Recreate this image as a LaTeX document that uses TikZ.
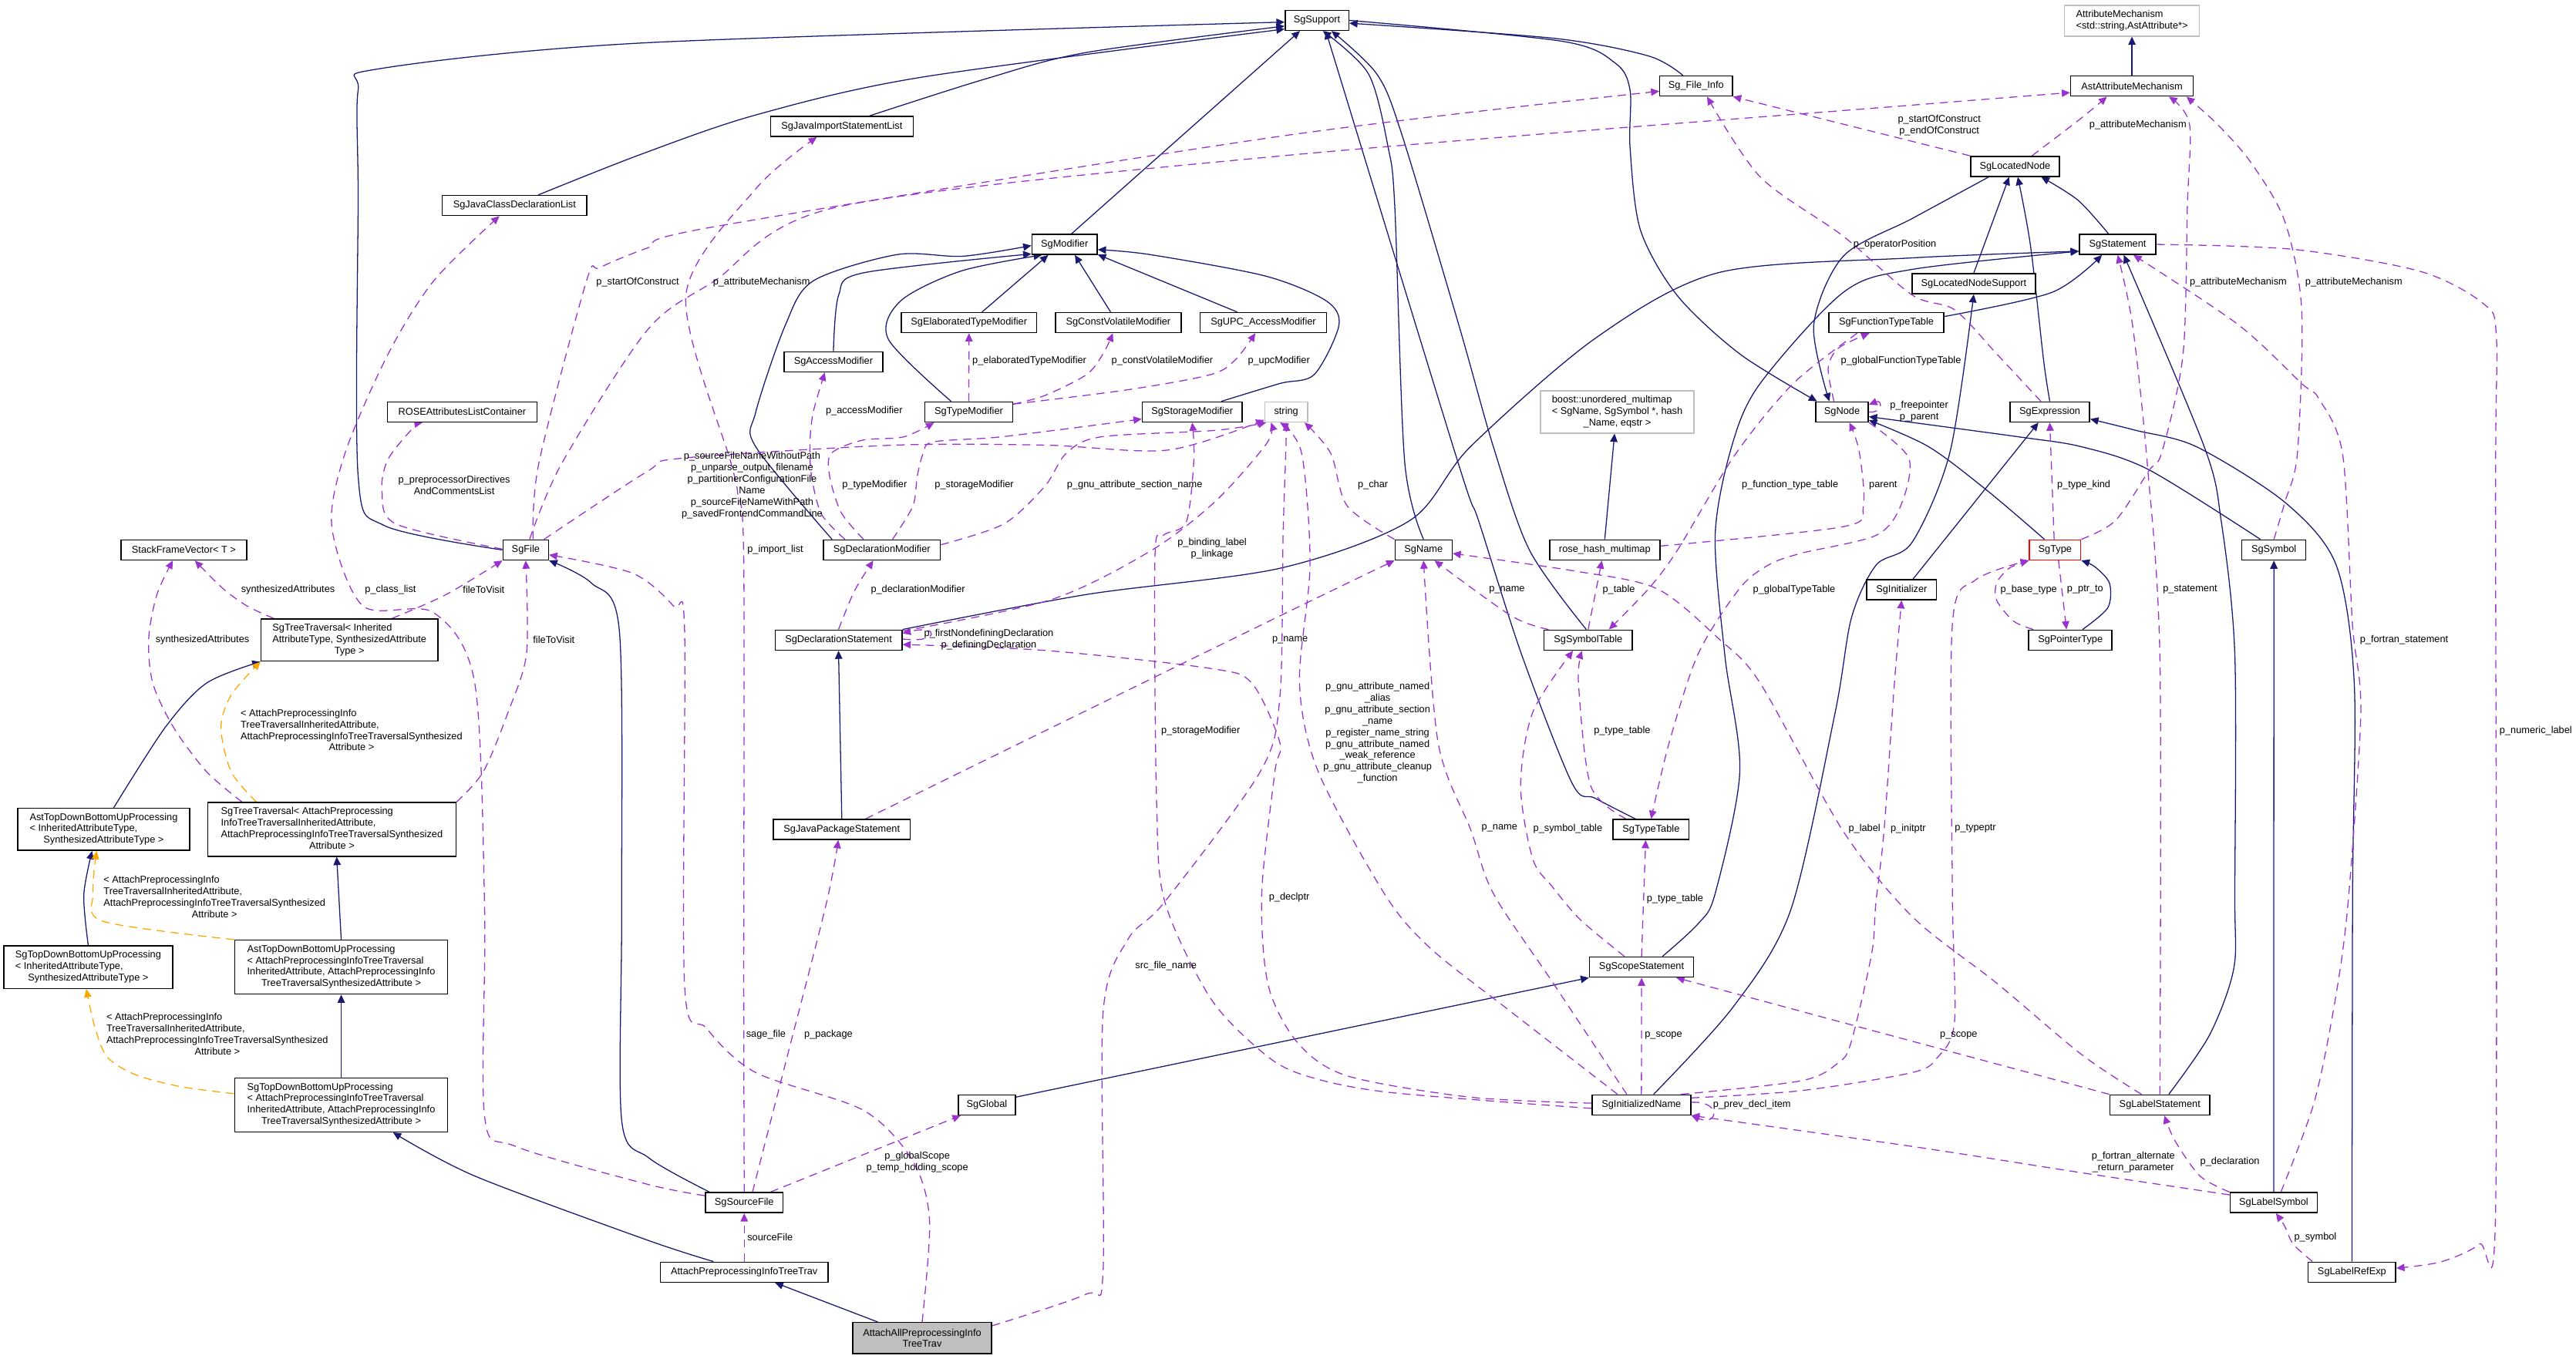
\documentclass[tikz,border=0pt]{standalone}
\usepackage{fontspec}
\setmainfont{Liberation Sans}
\usetikzlibrary{arrows.meta,backgrounds}
\definecolor{inhblue}{HTML}{191970}
\definecolor{usepurple}{HTML}{9A32CD}
\definecolor{tplorange}{HTML}{FFA500}
\definecolor{extgray}{HTML}{BFBFBF}
\newcommand{\boxlines}[2]{\begin{tabular}{@{}l@{}}#1\multicolumn{1}{@{}c@{}}{#2}\end{tabular}}
\tikzset{
  cls/.style={draw=black,line width=0.7pt,fill=white,rectangle,minimum height=12.2pt,
              inner sep=2pt,font=\fontsize{6}{6.9}\selectfont},
  extcls/.style={cls,draw=extgray},
  curcls/.style={cls,fill=extgray},
  redcls/.style={cls,draw=red},
  inh/.style={draw=inhblue,line width=0.6pt,-{Triangle[length=5pt,width=4.5pt]}},
  usg/.style={draw=usepurple,line width=0.6pt,dash pattern=on 5pt off 3.5pt,
              -{Triangle[length=5pt,width=4.5pt]}},
  tpl/.style={usg,draw=tplorange},
  lbl/.style={inner sep=0pt,font=\fontsize{6}{7}\selectfont,align=center}
}

\begin{document}
\begin{tikzpicture}[x=1pt,y=-1pt]
\useasboundingbox (0,0) rectangle (1568,827);

% classes, top to bottom
\node[cls,minimum width=38.7pt] (sup) at (801.6,12.4) {SgSupport};
\node[extcls,minimum width=82pt,minimum height=18.7pt] (attmech) at (1297.7,12.6) {\boxlines{AttributeMechanism\\}{<std::string,AstAttribute*>}};
\node[cls,minimum width=74.7pt] (astmech) at (1297.7,52.4) {AstAttributeMechanism};
\node[cls,minimum width=44.2pt] (finfo) at (1032.4,52.4) {Sg\_File\_Info};
\node[cls,minimum width=86.8pt] (jimport) at (512.4,77) {SgJavaImportStatementList};
\node[cls,minimum width=54pt] (locnode) at (1226.5,101.3) {SgLocatedNode};
\node[cls,minimum width=88pt] (jclass) at (313.2,125.1) {SgJavaClassDeclarationList};
\node[cls,minimum width=39.7pt] (modif) at (648,148.8) {SgModifier};
\node[cls,minimum width=46.6pt] (stmt) at (1289,148.8) {SgStatement};
\node[cls,minimum width=75pt] (locsup) at (1201.4,172.7) {SgLocatedNodeSupport};
\node[cls,minimum width=82.2pt] (elab) at (589.8,196.4) {SgElaboratedTypeModifier};
\node[cls,minimum width=76.4pt] (cvmod) at (680.7,196.4) {SgConstVolatileModifier};
\node[cls,minimum width=77pt] (upcmod) at (769,196.4) {SgUPC\_AccessModifier};
\node[cls,minimum width=70pt] (ftt) at (1148.2,196.4) {SgFunctionTypeTable};
\node[cls,minimum width=60pt] (accmod) at (507.3,220.3) {SgAccessModifier};
\node[cls,minimum width=91pt] (rosecont) at (281.3,250.8) {ROSEAttributesListContainer};
\node[cls,minimum width=53.3pt] (typemod) at (589.7,250.8) {SgTypeModifier};
\node[cls,minimum width=60.8pt] (stormod) at (725.7,250.8) {SgStorageModifier};
\node[extcls,minimum width=26pt] (string) at (782.9,250.8) {string};
\node[extcls,minimum width=93.5pt,minimum height=25.7pt] (boostmm) at (984.4,250.8) {\boxlines{boost::unordered\_multimap\\< SgName, SgSymbol *, hash\\}{\_Name, eqstr >}};
\node[cls,minimum width=32pt] (sgnode) at (1121.2,250.8) {SgNode};
\node[cls,minimum width=48.5pt] (sgexpr) at (1247.7,250.8) {SgExpression};
\node[cls,minimum width=76.4pt] (sframe) at (111.9,334.8) {StackFrameVector< T >};
\node[cls,minimum width=27.7pt] (sgfile) at (320,334.8) {SgFile};
\node[cls,minimum width=71.1pt] (declmod) at (536.8,334.8) {SgDeclarationModifier};
\node[cls,minimum width=34.7pt] (sgname) at (866.5,334.8) {SgName};
\node[cls,minimum width=67.1pt] (rosehash) at (976.8,334.8) {rose\_hash\_multimap};
\node[redcls,minimum width=31.2pt] (sgtype) at (1250.9,334.8) {SgType};
\node[cls,minimum width=39pt] (sgsym) at (1384.1,334.8) {SgSymbol};
\node[cls,minimum width=42.6pt] (sginit) at (1157.5,359) {SgInitializer};
\node[cls,minimum width=107.6pt,minimum height=25.7pt] (ttinh) at (212.7,389.7) {\boxlines{SgTreeTraversal< Inherited\\AttributeType, SynthesizedAttribute\\}{Type >}};
\node[cls,minimum width=77.2pt] (declst) at (510.4,389.7) {SgDeclarationStatement};
\node[cls,minimum width=53.6pt] (symtab) at (966.7,389.7) {SgSymbolTable};
\node[cls,minimum width=50.7pt] (ptrtype) at (1260.2,389.7) {SgPointerType};
\node[cls,minimum width=104.6pt,minimum height=25.7pt] (asttdinh) at (63.1,504.9) {\boxlines{AstTopDownBottomUpProcessing\\< InheritedAttributeType,\\}{SynthesizedAttributeType >}};
\node[cls,minimum width=151pt,minimum height=32.7pt] (ttatt) at (202,505) {\boxlines{SgTreeTraversal< AttachPreprocessing\\InfoTreeTraversalInheritedAttribute,\\AttachPreprocessingInfoTreeTraversalSynthesized\\}{Attribute >}};
\node[cls,minimum width=83.2pt] (jpack) at (512.4,505) {SgJavaPackageStatement};
\node[cls,minimum width=46.2pt] (typetab) at (1005,505) {SgTypeTable};
\node[cls,minimum width=102.8pt,minimum height=26pt] (sgtdinh) at (53.7,588.8) {\boxlines{SgTopDownBottomUpProcessing\\< InheritedAttributeType,\\}{SynthesizedAttributeType >}};
\node[cls,minimum width=129.7pt,minimum height=32.8pt] (asttdatt) at (207.7,588.8) {\boxlines{AstTopDownBottomUpProcessing\\< AttachPreprocessingInfoTreeTraversal\\InheritedAttribute, AttachPreprocessingInfo\\}{TreeTraversalSynthesizedAttribute >}};
\node[cls,minimum width=63.4pt] (scopest) at (999.2,588.8) {SgScopeStatement};
\node[cls,minimum width=129.7pt,minimum height=32.8pt] (sgtdatt) at (207.7,672.7) {\boxlines{SgTopDownBottomUpProcessing\\< AttachPreprocessingInfoTreeTraversal\\InheritedAttribute, AttachPreprocessingInfo\\}{TreeTraversalSynthesizedAttribute >}};
\node[cls,minimum width=34.9pt] (sgglobal) at (600.7,672.7) {SgGlobal};
\node[cls,minimum width=60pt] (initname) at (999.1,672.7) {SgInitializedName};
\node[cls,minimum width=60.9pt] (labelst) at (1314.7,672.7) {SgLabelStatement};
\node[cls,minimum width=47.3pt] (srcfile) at (453,732.2) {SgSourceFile};
\node[cls,minimum width=53.1pt] (labelsym) at (1384,732.2) {SgLabelSymbol};
\node[cls,minimum width=102.1pt] (attrav) at (453,774.5) {AttachPreprocessingInfoTreeTrav};
\node[cls,minimum width=53.3pt] (labelref) at (1431.6,774.5) {SgLabelRefExp};
\node[curcls,minimum width=84.4pt,minimum height=19pt,align=center] (attall) at (561.3,814.7) {AttachAllPreprocessingInfo\\TreeTrav};

% member labels
\node[lbl,anchor=west] (lsoc) at (362.8,172) {p\_startOfConstruct};
\node[lbl,anchor=west] (lam1) at (433.8,172) {p\_attributeMechanism};
\node[lbl] (lsfn) at (457.8,295.5) {p\_sourceFileNameWithoutPath\\p\_unparse\_output\_filename\\p\_partitionerConfigurationFile\\Name\\p\_sourceFileNameWithPath\\p\_savedFrontendCommandLine};
\node[lbl] (lppd) at (276.5,295.6) {p\_preprocessorDirectives\\AndCommentsList};
\node[lbl,anchor=west] (lcls) at (222,359) {p\_class\_list};
\node[lbl,anchor=west] (limp) at (454.7,334.5) {p\_import\_list};
\node[lbl,anchor=west] (lsage) at (454,630) {sage\_file};
\node[lbl,anchor=west] (lpkg) at (489.4,630) {p\_package};
\node[lbl] (lglob) at (558.3,707.4) {p\_globalScope\\p\_temp\_holding\_scope};
\node[lbl,anchor=west] (lsrc) at (454.7,753.2) {sourceFile};
\node[lbl,anchor=west] (lsfname) at (690.8,588.3) {src\_file\_name};
\node[lbl,anchor=west] (ltmod) at (512.5,295.5) {p\_typeModifier};
\node[lbl,anchor=west] (lsmod1) at (568.8,295.5) {p\_storageModifier};
\node[lbl,anchor=west] (lgsec) at (649.3,295.5) {p\_gnu\_attribute\_section\_name};
\node[lbl,anchor=west] (lamod) at (502.5,250.4) {p\_accessModifier};
\node[lbl,anchor=west] (lelab) at (591.7,219.8) {p\_elaboratedTypeModifier};
\node[lbl,anchor=west] (lcv) at (676.4,219.8) {p\_constVolatileModifier};
\node[lbl,anchor=west] (lupc) at (759.4,219.8) {p\_upcModifier};
\node[lbl] (lbind) at (737.8,334.2) {p\_binding\_label\\p\_linkage};
\node[lbl,anchor=west] (ldmod) at (529.9,359) {p\_declarationModifier};
\node[lbl] (lfnd) at (601.9,389.3) {p\_firstNondefiningDeclaration\\p\_definingDeclaration};
\node[lbl,anchor=west] (lchar) at (826.3,295.5) {p\_char};
\node[lbl,anchor=west] (lname1) at (906.2,359) {p\_name};
\node[lbl,anchor=west] (ltable) at (975.3,359) {p\_table};
\node[lbl,anchor=west] (lftt) at (1060,295.5) {p\_function\_type\_table};
\node[lbl,anchor=west] (lparent) at (1137.5,295.5) {parent};
\node[lbl,anchor=west] (lgtt) at (1066.9,359) {p\_globalTypeTable};
\node[lbl,anchor=west] (lgftt) at (1120.4,219.8) {p\_globalFunctionTypeTable};
\node[lbl] (lfree) at (1168.2,250.3) {p\_freepointer\\p\_parent};
\node[lbl,anchor=west] (lname2) at (774.2,389.5) {p\_name};
\node[lbl] (lgnu) at (838.5,446.2) {p\_gnu\_attribute\_named\\\_alias\\p\_gnu\_attribute\_section\\\_name\\p\_register\_name\_string\\p\_gnu\_attribute\_named\\\_weak\_reference\\p\_gnu\_attribute\_cleanup\\\_function};
\node[lbl,anchor=west] (ltt1) at (970,445.1) {p\_type\_table};
\node[lbl,anchor=west] (lname3) at (901.7,504.4) {p\_name};
\node[lbl,anchor=west] (lsymt) at (933.1,504.4) {p\_symbol\_table};
\node[lbl,anchor=west] (llabel) at (1125,504.4) {p\_label};
\node[lbl,anchor=west] (linit) at (1150.6,504.4) {p\_initptr};
\node[lbl,anchor=west] (ltptr) at (1189.7,504.4) {p\_typeptr};
\node[lbl,anchor=west] (ldecl) at (772.2,546.6) {p\_declptr};
\node[lbl,anchor=west] (ltt2) at (1002.2,547.1) {p\_type\_table};
\node[lbl,anchor=west] (lscope1) at (1001,630.3) {p\_scope};
\node[lbl,anchor=west] (lprev) at (1042.5,672.6) {p\_prev\_decl\_item};
\node[lbl,anchor=west] (lscope2) at (1180.7,630.3) {p\_scope};
\node[lbl] (lfalt) at (1298.5,707.4) {p\_fortran\_alternate\\\_return\_parameter};
\node[lbl,anchor=west] (ldecl2) at (1339.1,707.2) {p\_declaration};
\node[lbl,anchor=west] (lsym) at (1396.3,753.2) {p\_symbol};
\node[lbl,anchor=west] (lnum) at (1521.3,445.1) {p\_numeric\_label};
\node[lbl,anchor=west] (lfstmt) at (1436.3,389.5) {p\_fortran\_statement};
\node[lbl,anchor=west] (lstmt) at (1316.4,359) {p\_statement};
\node[lbl,anchor=west] (ltk) at (1252,295.5) {p\_type\_kind};
\node[lbl,anchor=west] (lbase) at (1217.5,359) {p\_base\_type};
\node[lbl,anchor=west] (lptr) at (1258,359) {p\_ptr\_to};
\node[lbl,anchor=west] (lam2) at (1271.6,76.3) {p\_attributeMechanism};
\node[lbl,anchor=west] (lam3) at (1332.7,172) {p\_attributeMechanism};
\node[lbl,anchor=west] (lam4) at (1403,172) {p\_attributeMechanism};
\node[lbl] (lsec) at (1180.4,76.4) {p\_startOfConstruct\\p\_endOfConstruct};
\node[lbl,anchor=west] (lopp) at (1128,148.7) {p\_operatorPosition};
\node[lbl,anchor=west] (lsyn1) at (146.6,359) {synthesizedAttributes};
\node[lbl,anchor=west] (lsyn2) at (94.5,389.5) {synthesizedAttributes};
\node[lbl,anchor=west] (lftv1) at (281.6,359) {fileToVisit};
\node[lbl,anchor=west] (lftv2) at (324.3,389.5) {fileToVisit};
\node[lbl,anchor=west] (lsmod2) at (706.6,445.1) {p\_storageModifier};
\node[lbl,anchor=north west] (ltpl1) at (146.3,431) {\boxlines{< AttachPreprocessingInfo\\TreeTraversalInheritedAttribute,\\AttachPreprocessingInfoTreeTraversalSynthesized\\}{Attribute >}};
\node[lbl,anchor=north west] (ltpl2) at (62.9,532.5) {\boxlines{< AttachPreprocessingInfo\\TreeTraversalInheritedAttribute,\\AttachPreprocessingInfoTreeTraversalSynthesized\\}{Attribute >}};
\node[lbl,anchor=north west] (ltpl3) at (64.6,616) {\boxlines{< AttachPreprocessingInfo\\TreeTraversalInheritedAttribute,\\AttachPreprocessingInfoTreeTraversalSynthesized\\}{Attribute >}};

\begin{scope}[on background layer]
% inheritance
\draw[inh] plot[smooth] coordinates {(jclass.24) (390,94) (460,70) (561,47) (sup.195)};
\draw[inh] plot[smooth] coordinates {(jimport.21) (600,48) (661,32) (sup.190)};
\draw[inh] plot[smooth] coordinates {(sgfile.west) (234,320) (218,290) (218,120) (218,55) (230,42) (394,26) (sup.183)};
\draw[inh] (modif.57) -- (sup.212);
\draw[inh] plot[smooth] coordinates {(sgname.north) (855,281) (849,126) (845,90) (833,45) (sup.299)};
\draw[inh] plot[smooth] coordinates {(typetab.146) (971,486) (957,477) (926,398) (900,317) (887,280) (sup.310)};
\draw[inh] plot[smooth] coordinates {(symtab.100) (931,335) (909,272) (888,198) (853,81) (838,45) (sup.324)};
\draw[inh] plot[smooth] coordinates {(sup.0) (950.7,25.1) (983.4,38.6) (992.2,55) (992.2,90) (998.5,140) (1021,180) (1059,215.5) (sgnode.157)};
\draw[inh] plot[smooth] coordinates {(finfo.141) (1003.5,34.1) (945.7,23.3) (sup.355)};
\draw[inh] (astmech.north) -- (attmech.south);
\draw[inh] (elab.39) -- (modif.213);
\draw[inh] (cvmod.126) -- (modif.314);
\draw[inh] (upcmod.158) -- (modif.343);
\draw[inh] plot[smooth] coordinates {(accmod.north) (510.5,179.6) (525.6,166.1) (modif.196)};
\draw[inh] plot[smooth] coordinates {(typemod.149) (540.7,206.5) (548.2,183.2) (585,165) (modif.205)};
\draw[inh] plot[smooth] coordinates {(stormod.20) (779,233.5) (800,228) (815,198) (807,183) (770,168) (700,155) (modif.351)};
\draw[inh] plot[smooth] coordinates {(declmod.168) (460,272) (460,251) (478,198) (495,171) (546,155) (586,156) (modif.182)};
\draw[inh] plot[smooth] coordinates {(locnode.202) (1164,133) (1122,156) (1104,198) (sgnode.140)};
\draw[inh] (locsup.north) -- (locnode.241);
\draw[inh] plot[smooth] coordinates {(sgexpr.north) (1244,220) (1236,150) (locnode.285)};
\draw[inh] plot[smooth] coordinates {(stmt.131) (1265,122) (locnode.338)};
\draw[inh] plot[smooth] coordinates {(ftt.6) (1249,178) (stmt.214)};
\draw[inh] plot[smooth] coordinates {(declst.north east) (661,362) (779,346) (858,317) (895,272) (971,206) (1046,166) (1164,157) (stmt.190)};
\draw[inh] plot[smooth] coordinates {(scopest.27) (1034,562) (1044,544) (1059,470) (1050,400) (1044,326) (1054,272) (1071,234) (1122,178) (1164,164) (stmt.190)};
\draw[inh] plot[smooth] coordinates {(labelst.50) (1345,630) (1359.7,589.5) (1360.3,544) (1360.3,398) (1352,317) (1341.7,272) (stmt.300)};
\draw[inh] (sginit.43) -- (sgexpr.223);
\draw[inh] plot[smooth] coordinates {(labelref.north) (1432,545) (1433,416) (1422,344) (1391,306) (1337,272) (1300,262) (sgexpr.350)};
\draw[inh] plot[smooth] coordinates {(sgtype.135) (1210,299) (1174,272) (sgnode.343)};
\draw[inh] plot[smooth] coordinates {(sgsym.142) (1308,286) (1267,272) (1229,266) (sgnode.350)};
\draw[inh] plot[smooth] coordinates {(ptrtype.41) (1283,370) (1284,355) (1275,345) (sgtype.south east)};
\draw[inh] plot[smooth] coordinates {(initname.41) (1055,613) (1090,554) (1117,434) (1127,376) (1142,344) (1164,330) (1187,275) (locsup.south)};
\draw[inh] (labelsym.north) -- (sgsym.south);
\draw[inh] (jpack.north) -- (declst.south);
\draw[inh] (sgglobal.15) -- (scopest.south west);
\draw[inh] plot[smooth] coordinates {(srcfile.163) (395,705) (378.4,682) (378.4,554) (377,384) (360,355) (sgfile.south east)};
\draw[inh] plot[smooth] coordinates {(attrav.161) (394,755) (289,716) (sgtdatt.332)};
\draw[inh] (attall.160) -- (attrav.341);
\draw[inh] plot[smooth] coordinates {(asttdinh.65) (100.6,442.8) (125.7,415.9) (ttinh.south west)};
\draw[inh] (asttdatt.north) -- (ttatt.280);
\draw[inh] plot[smooth] coordinates {(sgtdinh.north) (51,545) (asttdinh.242)};
\draw[inh] (sgtdatt.north) -- (asttdatt.south);
\draw[inh] (rosehash.north) -- (boostmm.263);

% template instances
\draw[tpl] plot[smooth] coordinates {(ttatt.160) (140.8,470) (134.5,443) (140.8,423) (ttinh.south west)};
\draw[tpl] plot[smooth] coordinates {(asttdatt.north west) (62.9,561) (56.6,544) (asttdinh.252)};
\draw[tpl] plot[smooth] coordinates {(sgtdatt.174) (110.6,661.7) (83,654.5) (65.4,643.7) (57.8,625.6) (sgtdinh.265)};

% usage
\draw[usg] plot[smooth] coordinates {(sgfile.55) (328,282) (357,171) (365,163) (394,151) (435,138) (779,83) (finfo.188)};
\draw[usg] plot[smooth] coordinates {(sgfile.70) (342,282) (394,201) (435,171) (510,126) (779,95) (1164,64) (astmech.186)};
\draw[usg] plot[smooth] coordinates {(sgfile.30) (394,287) (415,279) (545,271) (636,271) (711,274) (string.200)};
\draw[usg] plot[smooth] coordinates {(sgfile.178) (241,319) (232.5,299) (236,280) (251,261) (rosecont.195)};
\draw[usg] plot[smooth] coordinates {(srcfile.170) (394,721) (314,698) (295,680) (295,554) (289,416) (264,373) (221,369) (202,321) (210,276) (236,216) (264,171) (jclass.215)};
\draw[usg] plot[smooth] coordinates {(srcfile.north) (452.7,600) (452.7,340) (449,300) (445,282) (417.5,180) (460,115) (jimport.203)};
\draw[usg] plot[smooth] coordinates {(attall.north) (565.8,743) (555.7,707) (525.6,676) (460,653) (430,626) (416.7,600) (416.7,384) (410,369) (385,349) (sgfile.348)};
\draw[usg] plot[smooth] coordinates {(srcfile.52) (480,640) (503,550) (jpack.252)};
\draw[usg] (srcfile.22) -- (sgglobal.202);
\draw[usg] (attrav.north) -- (srcfile.south);
\draw[usg] plot[smooth] coordinates {(attall.10) (661,788) (671.4,775) (671.4,617) (686.5,572) (709,549) (767,470) (779,425) (781,326) (782.5,280) (string.272)};
\draw[usg] plot[smooth] coordinates {(declmod.150) (512,312) (505,290) (506,276) (525,268) (550,266) (typemod.197)};
\draw[usg] plot[smooth] coordinates {(declmod.45) (555.7,308) (558.3,290) (562,276) (568.3,269) (611,265.8) (stormod.188)};
\draw[usg] plot[smooth] coordinates {(declmod.5) (611,319) (636,296) (649,276) (670,266) (740,262) (string.208)};
\draw[usg] plot[smooth] coordinates {(declmod.164) (500,313) (494,290) (493,270) (495,251) (accmod.231)};
\draw[usg] (typemod.north) -- (elab.south);
\draw[usg] plot[smooth] coordinates {(typemod.10) (636.2,240.7) (661.3,228.1) (671.4,215.5) (cvmod.243)};
\draw[usg] plot[smooth] coordinates {(typemod.10) (686.5,237.3) (736.8,228.1) (751.9,219.1) (upcmod.233)};
\draw[usg] plot[smooth] coordinates {(declst.north) (520,360) (declmod.231)};
\draw[usg] (declst.1) .. controls (572,392) and (572,380) .. (declst.6);
\draw[usg] plot[smooth] coordinates {(declst.8) (640,365) (701,335) (740,305) (771,270) (string.215)};
\draw[usg] plot[smooth] coordinates {(sgname.160) (820,308) (810,276) (string.330)};
\draw[usg] plot[smooth] coordinates {(symtab.165) (920,375) (sgname.316)};
\draw[usg] (symtab.north) -- (rosehash.255);
\draw[usg] plot[smooth] coordinates {(ftt.200) (1091.5,233.5) (1056,277) (1021,335) (1003.5,358.4) (symtab.27)};
\draw[usg] plot[smooth] coordinates {(sgnode.127) (1112.8,224.3) (1119,212) (ftt.212)};
\draw[usg] plot[smooth] coordinates {(sgnode.south east) (1161.9,279) (1156.9,308) (1141.8,326) (1096.5,336.8) (1076.4,344) (1058.8,358.4) (1033.7,398) (1016.1,451.8) (typetab.north)};
\draw[usg] (sgnode.0) .. controls (1146,252) and (1146,243) .. (sgnode.15);
\draw[usg] plot[smooth] coordinates {(rosehash.4) (1121.7,320.7) (1134.2,308.1) (1131.7,275) (sgnode.305)};
\draw[usg] (sgtype.95) -- (sgexpr.south);
\draw[usg] plot[smooth] coordinates {(sgtype.north east) (1287.6,317) (1308,286.6) (1316,275) (1328.8,215.5) (1331.4,125.7) (1332.7,75.4) (astmech.344)};
\draw[usg] plot[smooth] coordinates {(sgsym.north) (1390.7,306) (1398.4,276) (1401,188.6) (1390.7,134.7) (1370,98.8) (1349.4,75.4) (astmech.349)};
\draw[usg] plot[smooth] coordinates {(locnode.32) (1267,71.8) (astmech.203)};
\draw[usg] (locnode.north west) -- (finfo.south east);
\draw[usg] plot[smooth] coordinates {(sgexpr.130) (1215.4,215.5) (1189.7,188.6) (1163.9,179.6) (1121.7,143.6) (1071.4,107.7) (finfo.316)};
\draw[usg] plot[smooth] coordinates {(initname.15) (1096.5,658) (1119,647) (1126.7,634.7) (1139.3,580.5) (1141.8,550) (1146.8,505.7) (1153.1,415.9) (sginit.south)};
\draw[usg] plot[smooth] coordinates {(initname.8) (1096.5,664) (1163.9,653) (1179.4,643.7) (1189.7,622) (1188.4,544) (1188.4,380) (1202.6,353) (sgtype.south west)};
\draw[usg] (initname.3) .. controls (1048,670) and (1046,686) .. (initname.south east);
\draw[usg] plot[smooth] coordinates {(initname.144) (945.7,599) (909,544) (895.4,505.7) (875.3,451.8) (sgname.south)};
\draw[usg] plot[smooth] coordinates {(initname.156) (920.5,616.6) (870.3,577) (842.6,544) (802.4,469.8) (791,416) (797.4,344) (792.3,276) (string.240)};
\draw[usg] plot[smooth] coordinates {(initname.178) (895,668) (820,655) (790,635) (772,600) (768,544) (776,470) (779,452) (762,416) (737,407) (636,396) (declst.356)};
\draw[usg] plot[smooth] coordinates {(initname.184) (845,665) (795,655) (770,642) (737,608) (709,549) (704,488) (703,340) (708,326) (722,318) (726.7,280) (stormod.south)};
\draw[usg] (initname.north) -- (scopest.south);
\draw[usg] (scopest.north) -- (typetab.243);
\draw[usg] plot[smooth] coordinates {(scopest.148) (962,560) (945,540) (933,523) (925.6,478.6) (933,433.6) (symtab.215)};
\draw[usg] plot[smooth] coordinates {(typetab.157) (968.3,478.6) (960.8,415.9) (symtab.240)};
\draw[usg] plot[smooth] coordinates {(labelst.north) (1314.7,400) (1307,282) (1298,197.6) (stmt.south)};
\draw[usg] plot[smooth] coordinates {(labelst.150) (1267,642) (1215.4,598.6) (1163.9,558) (1121.7,505.7) (1071.4,415.9) (1046.2,388.9) (1008.5,358.4) (958.2,347.6) (sgname.353)};
\draw[usg] (labelst.north west) -- (scopest.343);
\draw[usg] plot[smooth] coordinates {(labelsym.north west) (1339.1,716) (1323.7,694.2) (labelst.293)};
\draw[usg] plot[smooth] coordinates {(labelsym.170) (1267,714) (1164,698) (initname.south east)};
\draw[usg] plot[smooth] coordinates {(labelsym.56) (1408.7,670.8) (1421.6,607.6) (1429.3,549) (1437,433.6) (1431.9,380) (1426,277) (1411.3,242.5) (1401,233.5) (1362.3,197.6) (stmt.326)};
\draw[usg] plot[smooth] coordinates {(labelref.165) (1395.8,757.4) (1390.7,746.6) (labelsym.282)};
\draw[usg] plot[smooth] coordinates {(stmt.east) (1395.8,151.8) (1473.1,165.2) (1511.8,185) (1519.5,205) (1519,300) (1519,739.3) (1509.2,757.4) (1486,768.2) (labelref.5)};
\draw[usg] (sgtype.288) -- (ptrtype.110);
\draw[usg] plot[smooth] coordinates {(ptrtype.164) (1225.7,378.2) (1215.4,365.6) (1215.4,354.8) (1223.2,345.8) (sgtype.south west)};
\draw[usg] plot[smooth] coordinates {(ttinh.164) (150.8,369.2) (135.8,358.4) (sframe.316)};
\draw[usg] plot[smooth] coordinates {(ttatt.163) (125.7,469.8) (105.6,442.8) (93,415.9) (90.5,388.9) (95.5,362) (sframe.224)};
\draw[usg] plot[smooth] coordinates {(ttinh.27) (271.5,362) (sgfile.south west)};
\draw[usg] plot[smooth] coordinates {(ttatt.north east) (294.2,469.8) (309.2,433.8) (320.5,397.9) (sgfile.south)};
\draw[usg] plot[smooth] coordinates {(jpack.24) (636,445) (779,375) (sgname.south west)};
\end{scope}
\end{tikzpicture}
\end{document}
